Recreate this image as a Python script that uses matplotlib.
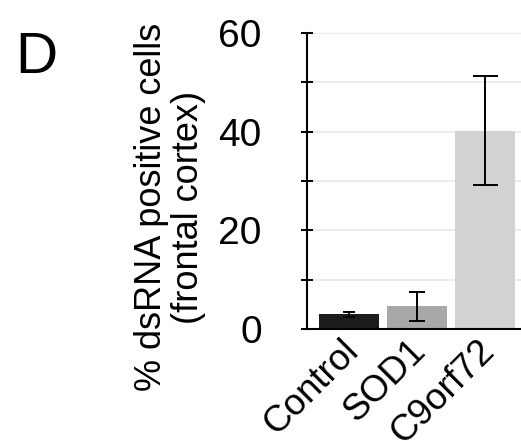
import numpy as np
import matplotlib
matplotlib.use('Agg')
import matplotlib.pyplot as plt
import matplotlib.transforms as mtransforms

plt.rcParams["font.family"] = ["Liberation Sans", "DejaVu Sans"]

groups = ["Control", "SOD1", "C9orf72"]
values = [3.0, 4.6, 40.2]
errors = [0.5, 3.0, 11.0]
colors = ["#1c1c1c", "#a8a8a8", "#d2d2d2"]
capsizes = [4, 5.5, 9]

fig = plt.figure(figsize=(5.21, 4.41), dpi=100)
ax = fig.add_axes([0.589, 0.254, 0.42, 0.671])

x = np.arange(len(groups))
ax.bar(x, values, width=0.88, color=colors, zorder=2)
for xi, v, e, cs in zip(x, values, errors, capsizes):
    ax.errorbar(xi, v, yerr=e, fmt='none', ecolor='black', elinewidth=1.4,
                capsize=cs, capthick=1.4, zorder=3)

ax.set_ylim(0, 60)
ax.set_xlim(-0.62, 2.6)
ax.set_yticks([0, 20, 40, 60])
ax.set_yticks([10, 30, 50], minor=True)
ax.yaxis.grid(True, which='both', color='#e9e9e9', lw=1.2, zorder=0)
ax.set_axisbelow(True)
ax.tick_params(axis='y', which='both', direction='inout', length=9, width=1.4,
               labelsize=28, pad=28)
ax.tick_params(axis='x', length=0, labelsize=26.5, pad=3)
for s in ['top', 'right']:
    ax.spines[s].set_visible(False)
for s in ['left', 'bottom']:
    ax.spines[s].set_linewidth(1.5)

ax.set_xticks(x)
ax.set_xticklabels(groups, rotation=45, ha='right', va='top')
offset = mtransforms.ScaledTranslation(0.16, 0, fig.dpi_scale_trans)
for lab in ax.get_xticklabels():
    lab.set_transform(lab.get_transform() + offset)

fig.text(0.326, 0.53, "% dsRNA positive cells\n(frontal cortex)", rotation=90,
         ha='center', va='center', fontsize=26, multialignment='center',
         linespacing=1.05)
fig.text(0.03, 0.835, "D", fontsize=42, ha='left', va='baseline')

fig.savefig("out.png", dpi=100)
